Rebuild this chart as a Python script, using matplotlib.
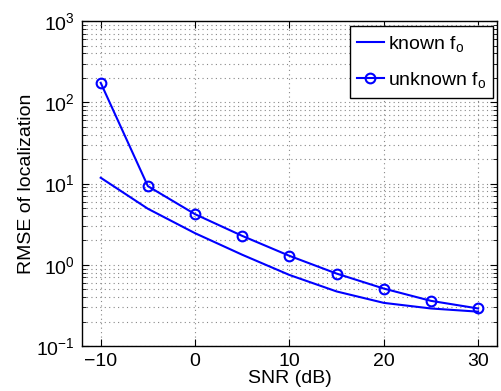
""" RMSE of localization vs SNR """

import matplotlib
matplotlib.use("Agg")
import matplotlib.pyplot
import matplotlib.ticker
import numpy

snr = [-10, -5, 0, 5, 10, 15, 20, 25, 30]
known = [11.8, 4.9, 2.45, 1.33, 0.75, 0.47, 0.34, 0.29, 0.265]
unknown = [174, 9.3, 4.2, 2.27, 1.29, 0.78, 0.51, 0.36, 0.29]

matplotlib.pyplot.rcParams["font.family"] = ["Liberation Sans", "DejaVu Sans"]
matplotlib.pyplot.rcParams["mathtext.fontset"] = "custom"
matplotlib.pyplot.rcParams["mathtext.rm"] = "Liberation Sans"
matplotlib.pyplot.rcParams["mathtext.it"] = "Liberation Sans:italic"
matplotlib.pyplot.rcParams["font.size"] = 14

fig = matplotlib.pyplot.figure(figsize=(5.02, 3.91), dpi=100)
ax = fig.add_axes([0.163, 0.115, 0.827, 0.831])

ax.semilogy(snr, known, "-", color="#0000ff", linewidth=1.5, label=r"known f$_\mathregular{o}$")
ax.semilogy(snr, unknown, "-o", color="#0000ff", linewidth=1.5, markersize=7,
    markerfacecolor="none", markeredgewidth=1.5, label=r"unknown f$_\mathregular{o}$")

ax.set_xlim([-12, 32])
ax.set_ylim([0.1, 1000])
ax.set_xticks([-10, 0, 10, 20, 30])
ax.yaxis.set_major_locator(matplotlib.ticker.LogLocator(base=10, numticks=10))
ax.yaxis.set_minor_locator(matplotlib.ticker.LogLocator(base=10, subs=numpy.arange(2, 10), numticks=10))
ax.yaxis.set_minor_formatter(matplotlib.ticker.NullFormatter())

ax.grid(True, which="major", linestyle=(0, (1, 3)), color="#888888", linewidth=0.8)
ax.grid(True, which="minor", axis="y", linestyle=(0, (1, 3)), color="#888888", linewidth=0.8)
ax.tick_params(which="both", direction="in", top=True, right=True, labelsize=14)
ax.tick_params(which="major", length=5, pad=5)
ax.tick_params(which="minor", length=3)
for s in ax.spines.values():
    s.set_linewidth(1.0)

ax.set_xlabel("SNR (dB)", fontsize=14, labelpad=0)
ax.set_ylabel("RMSE of localization", fontsize=14, labelpad=1)

leg = ax.legend(loc="upper right", fancybox=False, edgecolor="black", framealpha=1.0,
    fontsize=14, borderaxespad=0.25, handlelength=1.35, handletextpad=0.2, labelspacing=0.85,
    borderpad=0.4, bbox_to_anchor=(1.0 + 0.003, 1.0))
leg.get_frame().set_linewidth(1.0)

matplotlib.pyplot.savefig("out.png", dpi=100)
matplotlib.pyplot.close()
